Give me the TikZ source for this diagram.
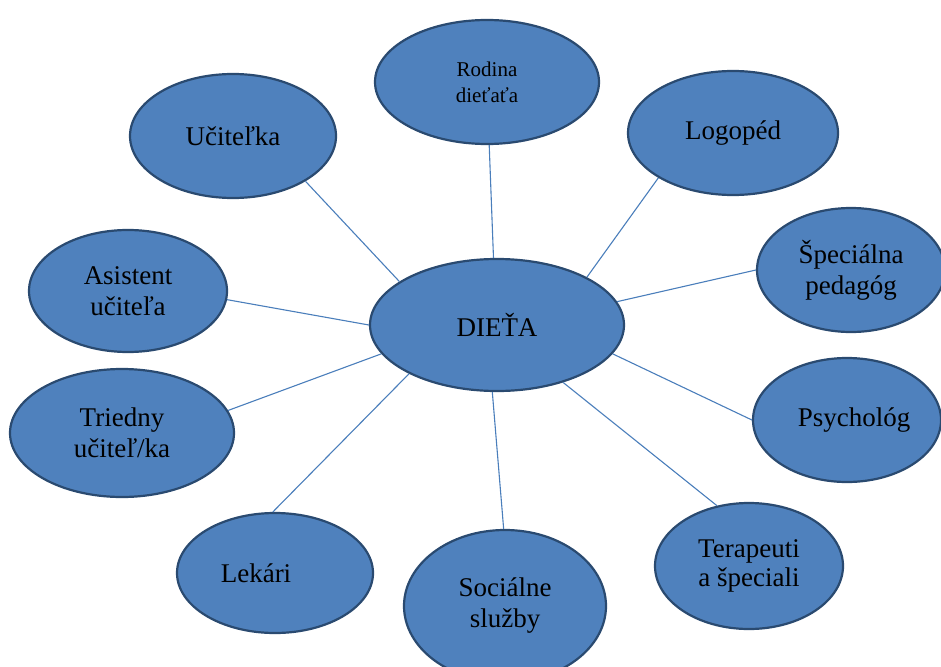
\documentclass[tikz,border=0pt]{standalone}
\usepackage{fontspec}
\setmainfont{Liberation Serif}
\usetikzlibrary{shapes.geometric}
\definecolor{bubblefill}{HTML}{4F81BD}
\definecolor{bubbleedge}{HTML}{2A4A70}
\definecolor{linkcol}{HTML}{4A7EBB}
\tikzset{
  bubble/.style={ellipse, fill=bubblefill, draw=bubbleedge, line width=2.2pt,
    inner sep=0pt, align=center, text=black,
    font=\fontsize{27}{31}\selectfont},
  link/.style={draw=linkcol, line width=1.1pt}
}
\begin{document}
\begin{tikzpicture}[x=1pt,y=-1pt]
\useasboundingbox (0,0) rectangle (941,666);
\clip (0,0) rectangle (941,666);
\node[bubble, minimum width=254pt, minimum height=132pt] (child) at (497,325) {DIEŤA};
\node[bubble, minimum width=224pt, minimum height=124pt, font=\fontsize{21}{26}\selectfont] (rodina) at (487,82) {Rodina\\dieťaťa};
\node[bubble, minimum width=210pt, minimum height=124pt] (logo) at (733,133) {Logopéd};
\node[bubble, minimum width=188pt, minimum height=124pt] (spec) at (851,270) {Špeciálna\\pedagóg};
\node[bubble, minimum width=188pt, minimum height=124pt] (psych) at (847,420) {\hspace*{14pt}Psychológ};
\node[bubble, minimum width=188pt, minimum height=126pt] (ter) at (749,566) {\raisebox{-6pt}{\shortstack{Terapeuti\\[2pt]a špeciali}}};
\node[bubble, minimum width=202pt, minimum height=152pt] (soc) at (505,606) {Sociálne\\služby};
\node[bubble, minimum width=196pt, minimum height=120pt] (lek) at (275,573) {Lekári\hspace*{38pt}};
\node[bubble, minimum width=224pt, minimum height=128pt] (tried) at (122,433) {Triedny\\učiteľ/ka};
\node[bubble, minimum width=198pt, minimum height=122pt] (asist) at (128,291) {Asistent\\učiteľa};
\node[bubble, minimum width=206pt, minimum height=124pt] (ucit) at (233,136) {Učiteľka};
\draw[link] (child.93.5) -- (rodina.272.7);
\draw[link] (child.28) -- (logo.211);
\draw[link] (child.11.8) -- (spec.180);
\draw[link] (child.-14.5) -- (psych.180);
\draw[link] (child.-41.4) -- (ter.118);
\draw[link] (child.266.6) -- (soc.91.6);
\draw[link] (child.209.9) -- (lek.92.9);
\draw[link] (child.194) -- (tried.12.2);
\draw[link] (child.180) -- (asist.-5.2);
\draw[link] (child.156.6) -- (ucit.-32.2);
\end{tikzpicture}
\end{document}
